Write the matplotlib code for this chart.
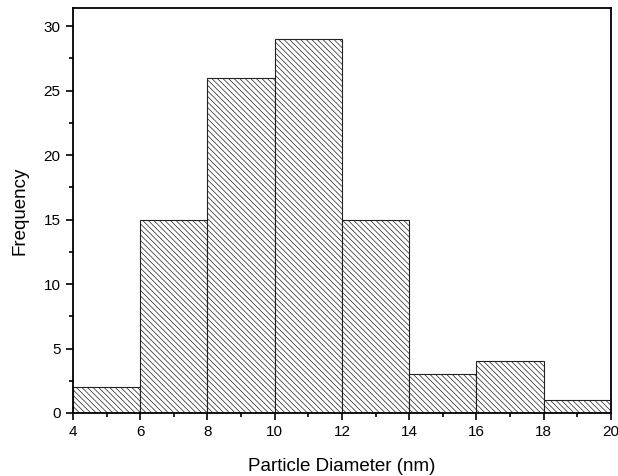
import numpy as np
import matplotlib.pyplot as plt
from matplotlib.ticker import MultipleLocator

plt.rcParams['font.family'] = ['Liberation Sans', 'DejaVu Sans']
plt.rcParams['hatch.linewidth'] = 0.5

# histogram bins (nm) and counts
bin_edges = [4, 6, 8, 10, 12, 14, 16, 18, 20]
counts = [2, 15, 26, 29, 15, 3, 4, 1]

fig = plt.figure(figsize=(6.18, 4.76), dpi=100)
ax = fig.add_axes([0.118, 0.1324, 0.8707, 0.8506])

lefts = bin_edges[:-1]
widths = np.diff(bin_edges)
ax.bar(lefts, counts, width=widths, align='edge', facecolor='white',
       edgecolor='#222222', linewidth=0.8, hatch='\\' * 6)

ax.set_xlim(4, 20)
ax.set_ylim(0, 31.4)
ax.xaxis.set_major_locator(MultipleLocator(2))
ax.xaxis.set_minor_locator(MultipleLocator(1))
ax.yaxis.set_major_locator(MultipleLocator(5))
ax.yaxis.set_minor_locator(MultipleLocator(2.5))
ax.tick_params(which='both', direction='out', width=1.2, labelsize=11, pad=4)
ax.tick_params(which='major', length=5)
ax.tick_params(which='minor', length=3)
for s in ax.spines.values():
    s.set_linewidth(1.3)

ax.set_xlabel('Particle Diameter (nm)', fontsize=13.5, labelpad=13)
ax.set_ylabel('Frequency', fontsize=13.5, labelpad=11)

fig.savefig('out.png', dpi=100)
